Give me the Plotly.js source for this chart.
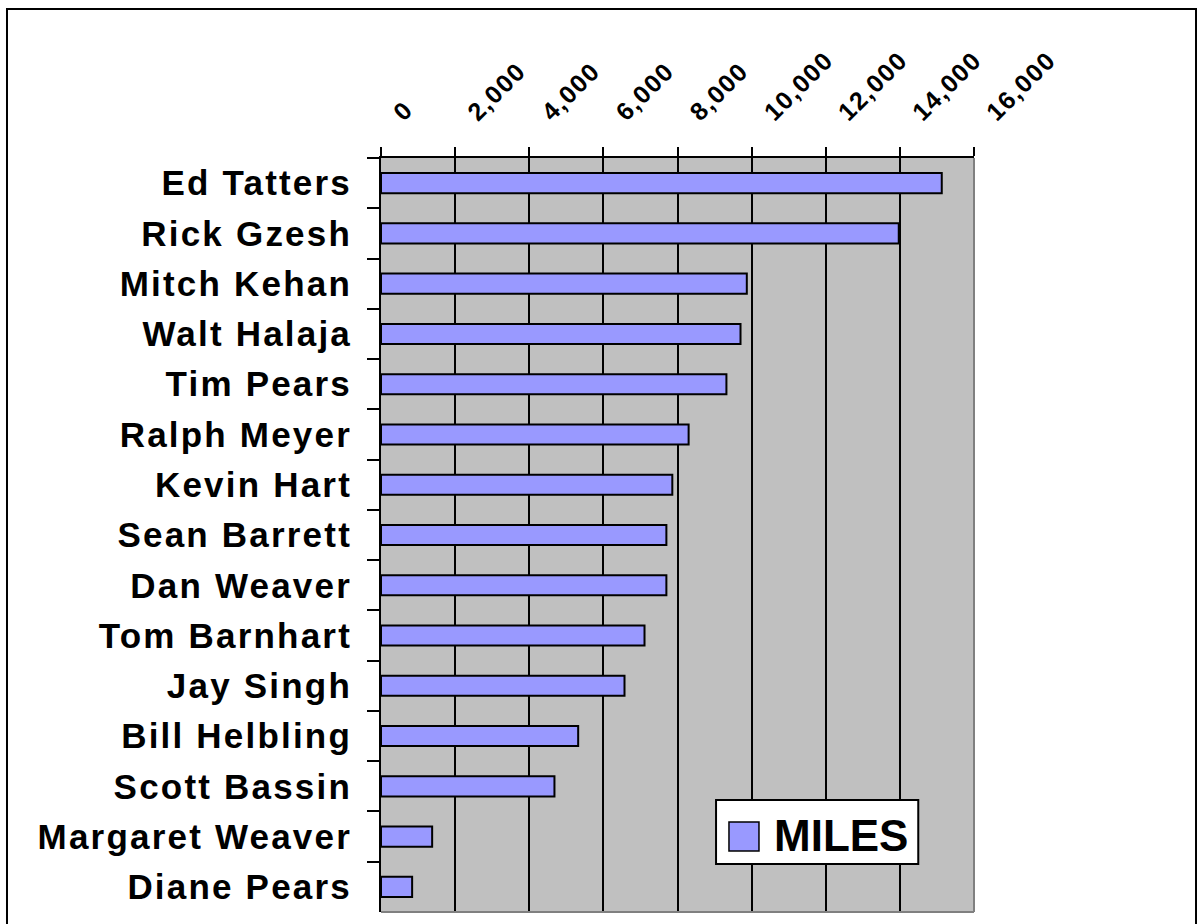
<!DOCTYPE html>
<html>
<head>
<meta charset="utf-8">
<script src="https://cdn.plot.ly/plotly-3.0.1.min.js"></script>
<style>
html,body{margin:0;padding:0;background:#fff;}
#chart{width:1197px;height:924px;}
#chart .ytick text{letter-spacing:2.2px;}
#chart .xtick text{letter-spacing:1.5px;}
</style>
</head>
<body>
<div id="chart"></div>
<script>
const names = ["Ed Tatters","Rick Gzesh","Mitch Kehan","Walt Halaja","Tim Pears","Ralph Meyer","Kevin Hart","Sean Barrett","Dan Weaver","Tom Barnhart","Jay Singh","Bill Helbling","Scott Bassin","Margaret Weaver","Diane Pears"];
const miles = [15130,13970,9870,9700,9320,8300,7860,7700,7700,7110,6570,5320,4680,1380,840];
const seriesName = "MILES";
const xTicks = [0,2000,4000,6000,8000,10000,12000,14000,16000];

const FONT = "Liberation Sans, Arial, sans-serif";

const trace = {
  type: "bar",
  orientation: "h",
  y: names,
  x: miles,
  name: seriesName,
  width: 0.4,
  marker: {color: "#9999FF", line: {color: "#000", width: 2}},
  showlegend: false,
  hoverinfo: "x+y"
};

const layout = {
  width: 1197, height: 924,
  margin: {l: 381, r: 223, t: 158, b: 12, pad: 0},
  paper_bgcolor: "#fff",
  plot_bgcolor: "#C0C0C0",
  bargap: 0.6,
  xaxis: {
    side: "top",
    range: [0, 16000],
    tickvals: xTicks,
    tickformat: ",d",
    tickangle: -45,
    tickfont: {family: FONT, size: 25, weight: "bold", color: "#000"},
    ticklabelstandoff: 11,
    ticklabelshift: 14,
    showgrid: true, gridcolor: "#000", gridwidth: 2,
    showline: true, linecolor: "#000", linewidth: 2,
    ticks: "outside", ticklen: 9, tickwidth: 2, tickcolor: "#000",
    zeroline: false,
    fixedrange: true
  },
  yaxis: {
    type: "category",
    autorange: "reversed",
    tickson: "boundaries",
    ticks: "outside", ticklen: 12, tickwidth: 2, tickcolor: "#000",
    showline: true, linecolor: "#000", linewidth: 2,
    showgrid: false,
    tickfont: {family: FONT, size: 35, weight: "bold", color: "#000"},
    ticklabelstandoff: 20,
    fixedrange: true
  },
  shapes: [
    {type: "rect", xref: "paper", yref: "paper", x0: -0.6307, x1: 1.3744, y0: -0.05, y1: 1.1976,
     line: {color: "#000", width: 2}, fillcolor: "rgba(0,0,0,0)", layer: "above"},
    {type: "line", xref: "paper", yref: "paper", x0: 1, x1: 1, y0: 0, y1: 1, line: {color: "#808080", width: 2}},
    {type: "line", xref: "paper", yref: "paper", x0: 0, x1: 1, y0: 0, y1: 0, line: {color: "#808080", width: 2}},
    {type: "rect", xref: "paper", yref: "paper", x0: 0.565, x1: 0.906, y0: 0.0637, y1: 0.1485,
     line: {color: "#000", width: 2}, fillcolor: "#fff", layer: "above"},
    {type: "rect", xref: "paper", yref: "paper", x0: 0.5868, x1: 0.6374, y0: 0.0809, y1: 0.1194,
     line: {color: "#000", width: 1.5}, fillcolor: "#9999FF", layer: "above"}
  ],
  annotations: [
    {xref: "paper", yref: "paper", x: 0.660, y: 0.1015, xanchor: "left", yanchor: "middle",
     text: "<b>" + seriesName + "</b>", showarrow: false,
     font: {family: FONT, size: 44, color: "#000"}}
  ]
};

Plotly.newPlot("chart", [trace], layout, {displayModeBar: false, staticPlot: true});
</script>
</body>
</html>
